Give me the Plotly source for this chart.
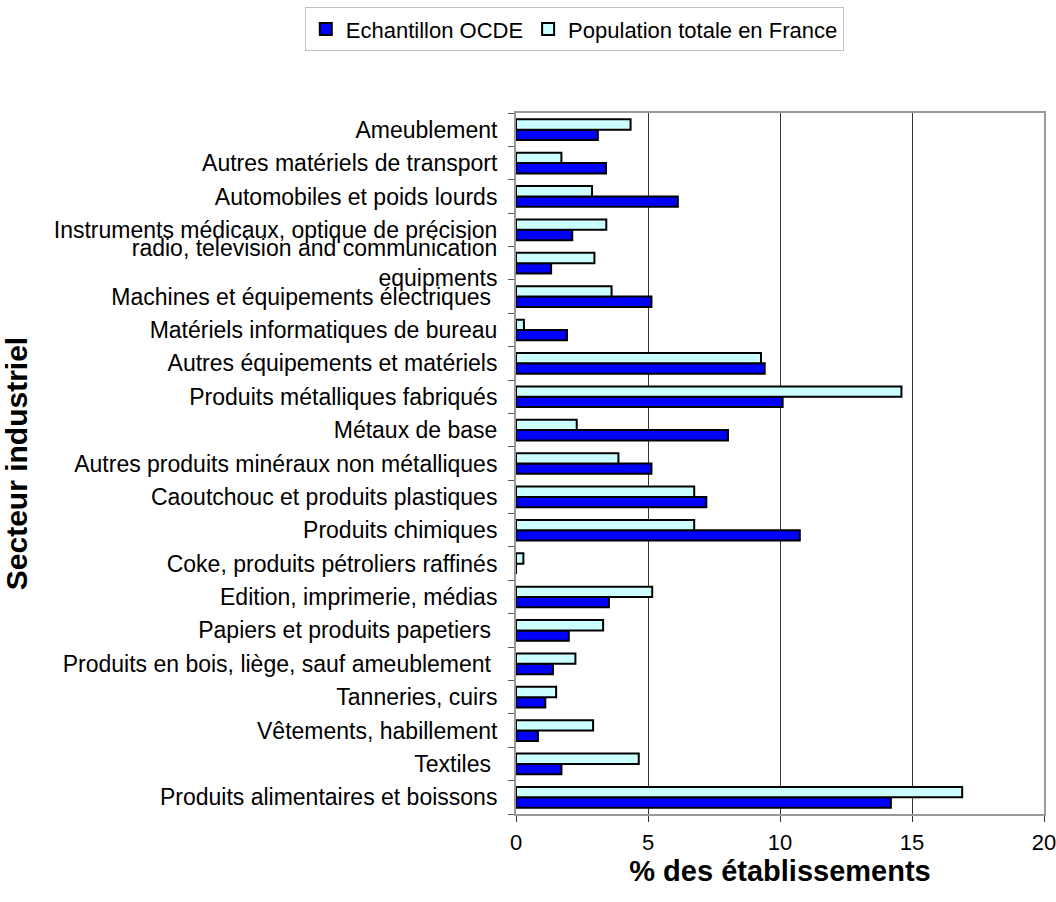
import plotly.graph_objects as go


# Categories listed from bottom to top of the chart
secteurs = [
    "Produits alimentaires et boissons",
    "Textiles\u00a0",
    "Vêtements, habillement",
    "Tanneries, cuirs",
    "Produits en bois, liège, sauf ameublement\u00a0",
    "Papiers et produits papetiers\u00a0",
    "Edition, imprimerie, médias",
    "Coke, produits pétroliers raffinés",
    "Produits chimiques",
    "Caoutchouc et produits plastiques",
    "Autres produits minéraux non métalliques",
    "Métaux de base",
    "Produits métalliques fabriqués",
    "Autres équipements et matériels",
    "Matériels informatiques de bureau",
    "Machines et équipements électriques\u00a0",
    "radio, television and communication<br>equipments",
    "Instruments médicaux, optique de précision",
    "Automobiles et poids lourds",
    "Autres matériels de transport",
    "Ameublement",
]

echantillon_ocde = [
    14.2, 1.72, 0.83, 1.11, 1.40, 2.0, 3.52, 0.0, 10.75, 7.21, 5.13,
    8.03, 10.1, 9.42, 1.93, 5.13, 1.33, 2.13, 6.13, 3.41, 3.1,
]

population_france = [
    16.9, 4.65, 2.92, 1.52, 2.25, 3.30, 5.16, 0.28, 6.75, 6.75, 3.88,
    2.3, 14.6, 9.28, 0.30, 3.62, 2.97, 3.42, 2.88, 1.72, 4.34,
]

x_ticks = [0, 5, 10, 15, 20]

FONT = "Liberation Sans, Arial, sans-serif"


def plot_secteurs():

    fig = go.Figure()

    fig.add_trace(
        go.Bar(
            y=secteurs,
            x=echantillon_ocde,
            orientation="h",
            name="Echantillon OCDE",
            marker=dict(color="#0000FF", line=dict(color="black", width=2)),
        )
    )

    fig.add_trace(
        go.Bar(
            y=secteurs,
            x=population_france,
            orientation="h",
            name="Population totale en France",
            marker=dict(color="#CCFFFF", line=dict(color="black", width=2)),
        )
    )

    fig.update_layout(
        width=1056,
        height=902,
        barmode="group",
        bargap=0.38,
        bargroupgap=0,
        plot_bgcolor="white",
        paper_bgcolor="white",
        font=dict(family=FONT, size=22, color="black"),
        margin=dict(l=516, r=12, t=113, b=88, autoexpand=False),
        # legend sits left of / above the plot area so it stays on one row
        legend=dict(
            orientation="h",
            x=-0.40,
            xanchor="left",
            y=1.151,
            yanchor="top",
            bordercolor="#c0c0c0",
            borderwidth=1,
            font=dict(size=22),
            traceorder="normal",
            itemwidth=30,
        ),
    )

    fig.update_xaxes(
        range=[0, 20],
        tickvals=x_ticks,
        showgrid=True,
        gridcolor="#333333",
        gridwidth=1,
        zeroline=False,
        showline=True,
        linecolor="#999999",
        linewidth=2,
        mirror=True,
        ticks="outside",
        ticklen=6,
        tickcolor="#333333",
        tickfont=dict(size=22),
        ticklabelstandoff=2,
        ticklabeloverflow="allow",
        title=dict(
            text="<b>% des établissements</b>",
            font=dict(size=29),
            standoff=0,
        ),
    )

    fig.update_yaxes(
        type="category",
        showgrid=False,
        showline=True,
        linecolor="#999999",
        linewidth=2,
        mirror=True,
        ticks="outside",
        ticklen=6,
        tickcolor="#555555",
        tickson="boundaries",
        ticklabelstandoff=12,
        tickfont=dict(size=23),
        title=dict(
            text="<b>Secteur industriel</b>",
            font=dict(size=30),
            standoff=18,
        ),
    )

    return fig


fig = plot_secteurs()
# drop the browser's default body margin so the figure sits at the page origin
fig.write_html(
    "out.html",
    config={"displayModeBar": False},
    post_script="document.body.style.margin = '0';",
)
